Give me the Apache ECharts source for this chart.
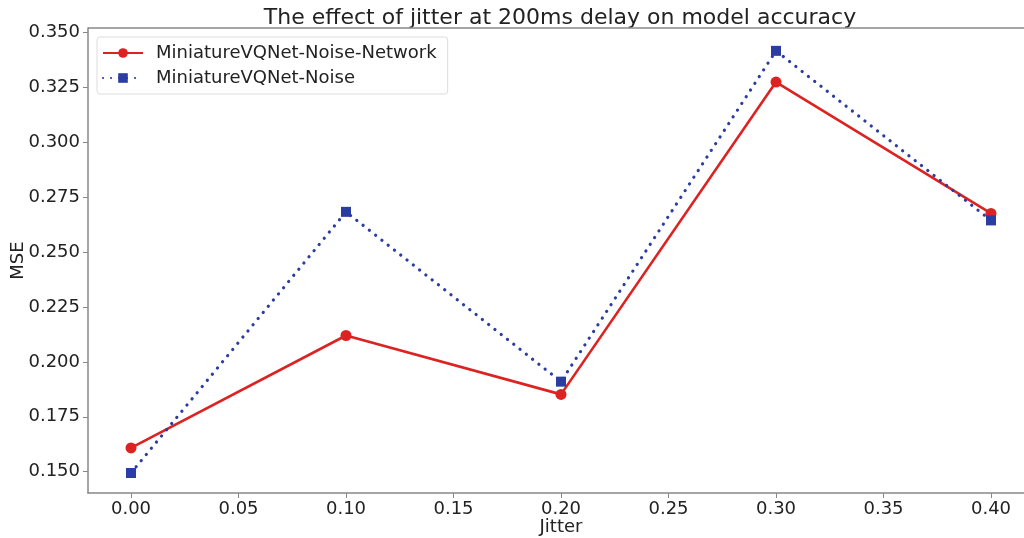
<!DOCTYPE html>
<html>
<head>
<meta charset="utf-8">
<script src="https://cdn.jsdelivr.net/npm/echarts@6/dist/echarts.min.js"></script>
<style>html,body{margin:0;padding:0;background:#fff}#c{width:1024px;height:538px}</style>
</head>
<body>
<div id="c"></div>
<script>
const jitter = [0.00, 0.10, 0.20, 0.30, 0.40];
const noiseNetwork = [0.1608, 0.2120, 0.1852, 0.3274, 0.2676];
const noiseOnly = [0.1494, 0.2683, 0.1910, 0.3416, 0.2644];
const xTicks = [0.00, 0.05, 0.10, 0.15, 0.20, 0.25, 0.30, 0.35, 0.40];
const yTicks = [0.150, 0.175, 0.200, 0.225, 0.250, 0.275, 0.300, 0.325, 0.350];
const seriesNames = ['MiniatureVQNet-Noise-Network', 'MiniatureVQNet-Noise'];

const font = 'DejaVu Sans';
const chart = echarts.init(document.getElementById('c'), null, {renderer: 'canvas'});
chart.setOption({
  animation: false,
  backgroundColor: '#fff',
  title: {
    text: 'The effect of jitter at 200ms delay on model accuracy',
    left: 555, top: 2, textAlign: 'center',
    textStyle: {fontFamily: font, fontSize: 22, fontWeight: 'normal', color: '#222'}
  },
  legend: {
    left: 97, top: 37, orient: 'vertical',
    itemWidth: 40, itemHeight: 12, itemGap: 7,
    padding: [7, 11, 7, 5],
    borderColor: '#ddd', borderWidth: 1, borderRadius: 3,
    backgroundColor: '#fff',
    textStyle: {fontFamily: font, fontSize: 18, color: '#222', padding: [0, 0, 0, 8]},
    data: seriesNames
  },
  grid: {left: 88, top: 28, width: 946, height: 465, containLabel: false, outerBoundsMode: 'none'},
  xAxis: {
    type: 'value', min: -0.02, max: 0.42,
    name: 'Jitter', nameLocation: 'middle', nameGap: 25, nameMoveOverlap: false,
    nameTextStyle: {fontFamily: font, fontSize: 18, color: '#222'},
    axisLine: {show: true, onZero: false, lineStyle: {color: '#888', width: 1.5}},
    axisTick: {show: true, length: 5, lineStyle: {color: '#888'}, customValues: xTicks},
    axisLabel: {fontFamily: font, fontSize: 18, color: '#222', margin: 7,
      customValues: xTicks, formatter: v => v.toFixed(2)},
    splitLine: {show: false}
  },
  yAxis: {
    type: 'value', min: 0.1403, max: 0.352,
    name: 'MSE', nameLocation: 'middle', nameGap: 61, nameMoveOverlap: false, nameRotate: 90,
    nameTextStyle: {fontFamily: font, fontSize: 18, color: '#222'},
    axisLine: {show: true, onZero: false, lineStyle: {color: '#888', width: 1.5}},
    axisTick: {show: true, length: 5, lineStyle: {color: '#888'}, customValues: yTicks},
    axisLabel: {fontFamily: font, fontSize: 18, color: '#222', margin: 8,
      customValues: yTicks, formatter: v => v.toFixed(3)},
    splitLine: {show: false}
  },
  series: [
    {
      name: seriesNames[0], type: 'line',
      data: jitter.map((x, i) => [x, noiseNetwork[i]]),
      color: '#dd2222',
      symbol: 'circle', symbolSize: 11,
      lineStyle: {color: '#dd2222', width: 2.6},
      itemStyle: {color: '#dd2222'},
      z: 2
    },
    {
      name: seriesNames[1], type: 'line',
      data: jitter.map((x, i) => [x, noiseOnly[i]]),
      color: '#2b3da0',
      symbol: 'rect', symbolSize: 10,
      lineStyle: {color: '#2b3da0', width: 3.2, type: [0.1, 7.9], cap: 'round'},
      itemStyle: {color: '#2b3da0'},
      z: 3
    }
  ],
  graphic: [{
    type: 'line', shape: {x1: 88, y1: 28, x2: 1024, y2: 28},
    style: {stroke: '#888', lineWidth: 1.5}, z: 10
  }]
});
</script>
</body>
</html>
